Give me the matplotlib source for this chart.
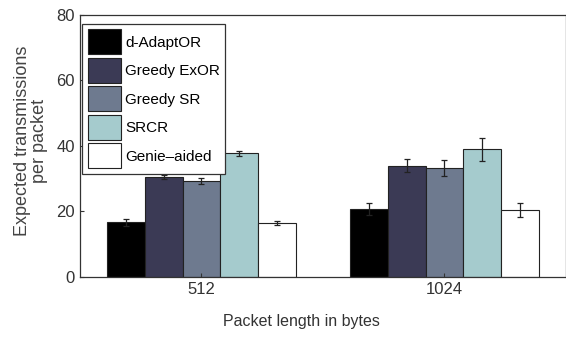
import numpy as np
import matplotlib
matplotlib.use("Agg")
import matplotlib.pyplot as plt

plt.rcParams['font.family'] = ['Liberation Sans Narrow', 'Liberation Sans', 'DejaVu Sans']

# data
groups = ['512', '1024']
series = ['d-AdaptOR', 'Greedy ExOR', 'Greedy SR', 'SRCR', 'Genie\u2013aided']
values = {
    'd-AdaptOR':   [16.7, 20.8],
    'Greedy ExOR': [30.5, 34.0],
    'Greedy SR':   [29.3, 33.3],
    'SRCR':        [37.8, 39.0],
    'Genie\u2013aided': [16.5, 20.5],
}
errors = {
    'd-AdaptOR':   [1.0, 1.8],
    'Greedy ExOR': [0.6, 2.1],
    'Greedy SR':   [1.0, 2.5],
    'SRCR':        [0.8, 3.5],
    'Genie\u2013aided': [0.6, 2.1],
}
colors = ['#000000', '#3b3a55', '#6e7a8f', '#a5cbcd', '#ffffff']

fig = plt.figure(figsize=(5.66, 3.45), dpi=100)
ax = fig.add_axes([0.141, 0.197, 0.859, 0.76])

x = np.arange(1, len(groups) + 1)
n = len(series)
width = 0.155
for i, name in enumerate(series):
    pos = x + (i - (n - 1) / 2) * width
    ax.bar(pos, values[name], width, color=colors[i], edgecolor='#222222',
           linewidth=0.8, label=name)
    ax.errorbar(pos, values[name], yerr=errors[name], fmt='none',
                ecolor='#222222', elinewidth=0.9, capsize=2.5, capthick=0.9)

ax.set_xlim(0.5, 2.5)
ax.set_ylim(0, 80)
ax.set_xticks(x)
ax.set_xticklabels(groups)
ax.set_yticks([0, 20, 40, 60, 80])
ax.tick_params(direction='in', length=3, labelsize=12, colors='#333333')
ax.set_xlabel('Packet length in bytes', fontsize=11.5, color='#333333')
ax.xaxis.set_label_coords(0.455, -0.14)
ax.set_ylabel('Expected transmissions\nper packet', fontsize=13, color='#444444',
              linespacing=0.95)
ax.yaxis.set_label_coords(-0.066, 0.52)
for s in ax.spines.values():
    s.set_color('#333333')
    s.set_linewidth(0.9)

leg = ax.legend(loc='upper left', bbox_to_anchor=(0.005, 0.965), fontsize=11,
                handlelength=2.2, handleheight=2.15, labelspacing=0.22,
                handletextpad=0.25, borderpad=0.35, borderaxespad=0.0,
                fancybox=False, framealpha=1, edgecolor='#333333')
leg.get_frame().set_linewidth(0.9)

fig.savefig('out.png', dpi=100)
